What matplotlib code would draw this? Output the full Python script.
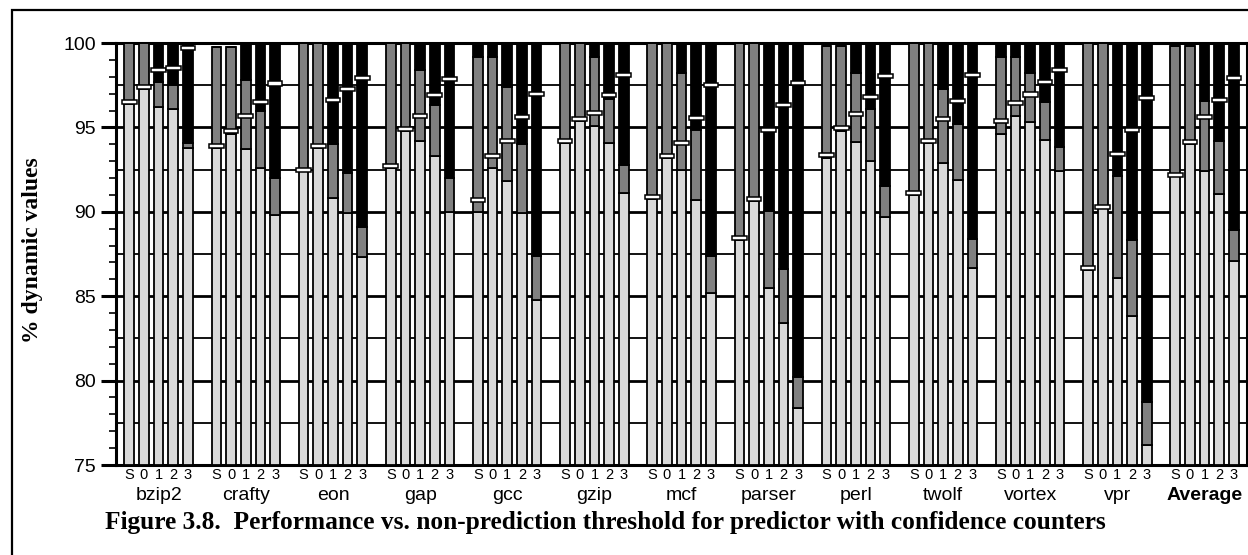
import matplotlib
matplotlib.use("Agg")
import matplotlib.pyplot as plt
import numpy as np
from matplotlib.patches import Rectangle
from matplotlib.ticker import MultipleLocator

groups = ["bzip2", "crafty", "eon", "gap", "gcc", "gzip", "mcf", "parser",
          "perl", "twolf", "vortex", "vpr", "Average"]
thresholds = ["S", "0", "1", "2", "3"]

# top of light-gray segment
light_top = [
    [96.4, 97.3, 96.2, 96.1, 93.8],
    [93.8, 94.6, 93.7, 92.6, 89.8],
    [92.4, 93.8, 90.8, 89.9, 87.3],
    [92.6, 94.8, 94.2, 93.3, 90.0],
    [90.0, 92.6, 91.8, 89.9, 84.8],
    [94.1, 95.4, 95.1, 94.1, 91.1],
    [90.75, 93.2, 92.5, 90.7, 85.2],
    [88.35, 90.65, 85.5, 83.4, 78.4],
    [93.2, 94.8, 94.15, 93.0, 89.7],
    [91.0, 94.1, 92.9, 91.9, 86.7],
    [94.6, 95.7, 95.3, 94.25, 92.4],
    [86.55, 90.2, 86.1, 83.8, 76.2],
    [92.1, 94.0, 92.4, 91.05, 87.1],
]
# top of medium-gray segment
gray_top = [
    [100, 100, 97.7, 97.5, 94.1],
    [99.75, 99.75, 97.8, 96.0, 92.0],
    [100, 100, 94.0, 92.3, 89.1],
    [100, 100, 98.4, 96.3, 92.0],
    [99.2, 99.2, 97.4, 94.0, 87.4],
    [100, 100, 99.2, 96.7, 92.8],
    [100, 100, 98.2, 94.85, 87.4],
    [100, 100, 90.05, 86.6, 80.2],
    [99.8, 99.8, 98.25, 96.1, 91.5],
    [100, 100, 97.25, 95.2, 88.4],
    [99.2, 99.2, 98.25, 96.5, 93.85],
    [100, 100, 92.15, 88.35, 78.75],
    [99.8, 99.8, 96.55, 94.2, 88.95],
]
# top of black segment
black_top = [
    [100, 100, 100, 100, 100],
    [99.75, 99.75, 100, 100, 100],
    [100, 100, 100, 100, 100],
    [100, 100, 100, 100, 100],
    [100, 100, 100, 100, 100],
    [100, 100, 100, 100, 100],
    [100, 100, 100, 100, 100],
    [100, 100, 100, 100, 100],
    [99.8, 99.8, 100, 100, 100],
    [100, 100, 100, 100, 100],
    [100, 100, 100, 100, 100],
    [100, 100, 100, 100, 100],
    [99.8, 99.8, 100, 100, 100],
]
# white marker level
marker_val = [
    [96.5, 97.4, 98.4, 98.5, 99.7],
    [93.9, 94.8, 95.7, 96.5, 97.6],
    [92.5, 93.9, 96.6, 97.3, 97.95],
    [92.7, 94.9, 95.7, 96.9, 97.85],
    [90.7, 93.3, 94.2, 95.6, 97.0],
    [94.2, 95.5, 95.85, 96.9, 98.1],
    [90.85, 93.3, 94.1, 95.55, 97.5],
    [88.45, 90.75, 94.85, 96.3, 97.65],
    [93.35, 94.95, 95.8, 96.8, 98.05],
    [91.1, 94.2, 95.5, 96.55, 98.1],
    [95.4, 96.45, 96.95, 97.7, 98.4],
    [86.65, 90.3, 93.45, 94.85, 96.75],
    [92.2, 94.15, 95.6, 96.6, 97.9],
]

YMIN, YMAX = 75, 100
GROUP_PITCH = 5.94
BAR_W = 0.66

fig = plt.figure(figsize=(12.48, 5.55), dpi=100)
ax = fig.add_axes([116 / 1248, 1 - 465 / 555, (1247 - 116) / 1248, (465 - 43) / 555])

light = np.array(light_top)
gray = np.array(gray_top)
black = np.array(black_top)
mark = np.array(marker_val)
ng, nb = light.shape
x = (np.arange(ng)[:, None] * GROUP_PITCH + np.arange(nb)[None, :]).ravel()

L = light.ravel(); G = gray.ravel(); B = black.ravel(); M = mark.ravel()
ekw = dict(edgecolor="black", linewidth=1.3, zorder=3)
ax.bar(x, L - YMIN, bottom=YMIN, width=BAR_W, color="#d9d9d9", **ekw)
ax.bar(x, G - L, bottom=L, width=BAR_W, color="#808080", **ekw)
ax.bar(x, B - G, bottom=G, width=BAR_W, color="black", **ekw)
mh = 0.24
ax.bar(x, mh, bottom=M - mh / 2, width=1.0, color="white",
       edgecolor="black", linewidth=1.1, zorder=4)

ax.set_ylim(YMIN, YMAX)
ax.set_xlim(-0.906, (ng - 1) * GROUP_PITCH + nb - 1 + 0.89)

# gridlines
for v in np.arange(YMIN + 2.5, YMAX, 2.5):
    major = abs(v % 5) < 1e-9
    ax.axhline(v, color="black", lw=2.0 if major else 1.3, zorder=1)

ax.yaxis.set_major_locator(MultipleLocator(5))
ax.yaxis.set_minor_locator(MultipleLocator(1))
ax.tick_params(axis="y", which="major", length=11, width=2.2, pad=3.5,
               labelsize=14, labelfontfamily="Liberation Sans")
ax.tick_params(axis="y", which="minor", length=5, width=1.2)
ax.set_xticks(x)
ax.set_xticklabels(thresholds * ng, fontfamily="Liberation Sans", fontsize=10.5)
ax.tick_params(axis="x", length=0, pad=2)

for s in ax.spines.values():
    s.set_linewidth(2.2)

for g, name in enumerate(groups):
    cx = g * GROUP_PITCH + (nb - 1) / 2
    ax.text(cx, -0.072, name, transform=ax.get_xaxis_transform(),
            ha="center", va="center", fontsize=14,
            fontfamily="Liberation Sans",
            fontweight="bold" if name == "Average" else "normal")

fig.text(33 / 1248, 1 - 250 / 555, "% dynamic values", rotation=90,
         ha="center", va="center", fontsize=17, fontweight="bold",
         fontfamily="Liberation Serif")

fig.text(105 / 1248, 1 - 523 / 555,
         "Figure 3.8.  Performance vs. non-prediction threshold for predictor with confidence counters",
         ha="left", va="center", fontsize=18.3, fontweight="bold",
         fontfamily="Liberation Serif")

fig.patches.append(Rectangle((12 / 1248, -0.1), 1.2, 1.1 - 10 / 555,
                             transform=fig.transFigure, fill=False,
                             edgecolor="black", linewidth=1.6))

fig.savefig("out.png", dpi=100)
